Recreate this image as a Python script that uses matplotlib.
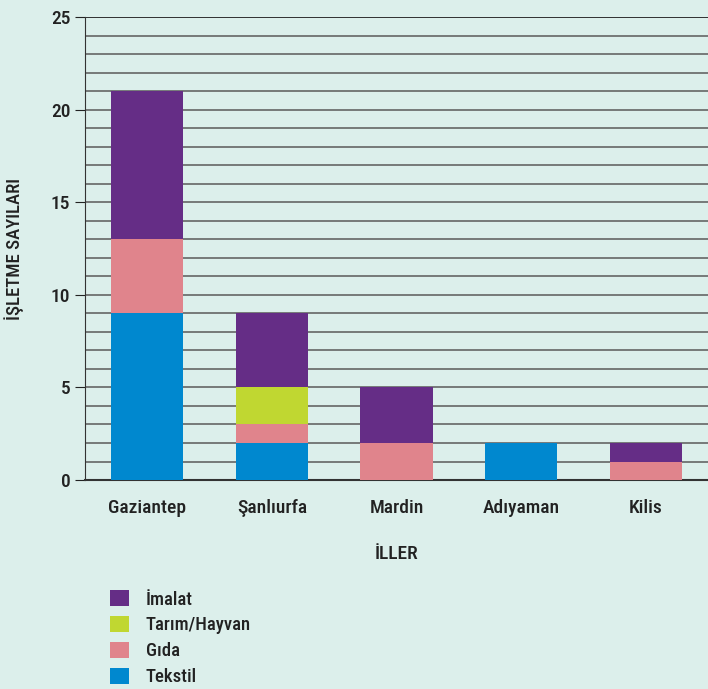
import numpy as np
import matplotlib.pyplot as plt
from matplotlib import font_manager

names = {f.name for f in font_manager.fontManager.ttflist}
cond = [n for n in ["Liberation Sans Narrow", "DejaVu Sans Condensed", "Roboto Condensed"] if n in names]
plt.rcParams['font.family'] = cond + ['DejaVu Sans']
plt.rcParams['font.stretch'] = 'condensed'

iller = ["Gaziantep", "Şanlıurfa", "Mardin", "Adıyaman", "Kilis"]
tekstil = [9, 2, 0, 2, 0]
gida = [4, 1, 2, 0, 1]
tarim = [0, 2, 0, 0, 0]
imalat = [8, 4, 3, 0, 1]

bg = "#dcefeb"
txt = "#222222"
fw = "medium"
fig = plt.figure(figsize=(7.08, 6.89), dpi=100, facecolor=bg)
ax = fig.add_axes([0.12, 0.3033, 0.88, 0.672])
ax.set_facecolor(bg)

x = np.arange(len(iller))
w = 0.58
series = [("Tekstil", tekstil, "#0088cf"), ("Gıda", gida, "#e0848c"),
          ("Tarım/Hayvan", tarim, "#c0d731"), ("İmalat", imalat, "#652d86")]
bottom = np.zeros(len(iller))
handles = []
for name, vals, col in series:
    b = ax.bar(x, vals, w, bottom=bottom, color=col, label=name, zorder=3)
    handles.append(b)
    bottom += np.array(vals)

ax.set_xlim(-0.5, 4.5)
ax.set_ylim(0, 25)
ax.set_yticks(range(0, 26, 5))
for v in range(1, 25):
    ax.axhline(v, color="#5a5a5a", lw=1.1, zorder=2)
ax.axhline(25, color="#222222", lw=1.3, zorder=2)
for s in ["top", "right"]:
    ax.spines[s].set_visible(False)
ax.spines["left"].set_color("#333333")
ax.spines["bottom"].set_color("#333333")
ax.spines["bottom"].set_linewidth(1.5)
ax.set_xticks(x)
ax.set_xticklabels(iller, fontsize=14, fontweight=fw, color=txt)
ax.tick_params(axis="x", length=0, pad=14)
ax.tick_params(axis="y", length=7, labelsize=14, colors=txt)
for t in ax.get_yticklabels():
    t.set_fontweight(fw)
ax.set_xlabel("İLLER", fontsize=14, fontweight=fw, labelpad=20, color=txt)
ax.set_ylabel("İŞLETME SAYILARI", fontsize=13.5, fontweight=fw, color=txt)
ax.yaxis.set_label_coords(-0.098, 0.5)

leg = fig.legend(handles[::-1], [h.get_label() for h in handles[::-1]],
                 loc="upper left", bbox_to_anchor=(0.145, 0.155), frameon=False,
                 handlelength=1.0, handleheight=1.0, labelspacing=0.38,
                 handletextpad=0.9, borderaxespad=0, prop={"weight": fw, "size": 13.5})
for t in leg.get_texts():
    t.set_color(txt)

fig.savefig("out.png", dpi=100, facecolor=bg)
